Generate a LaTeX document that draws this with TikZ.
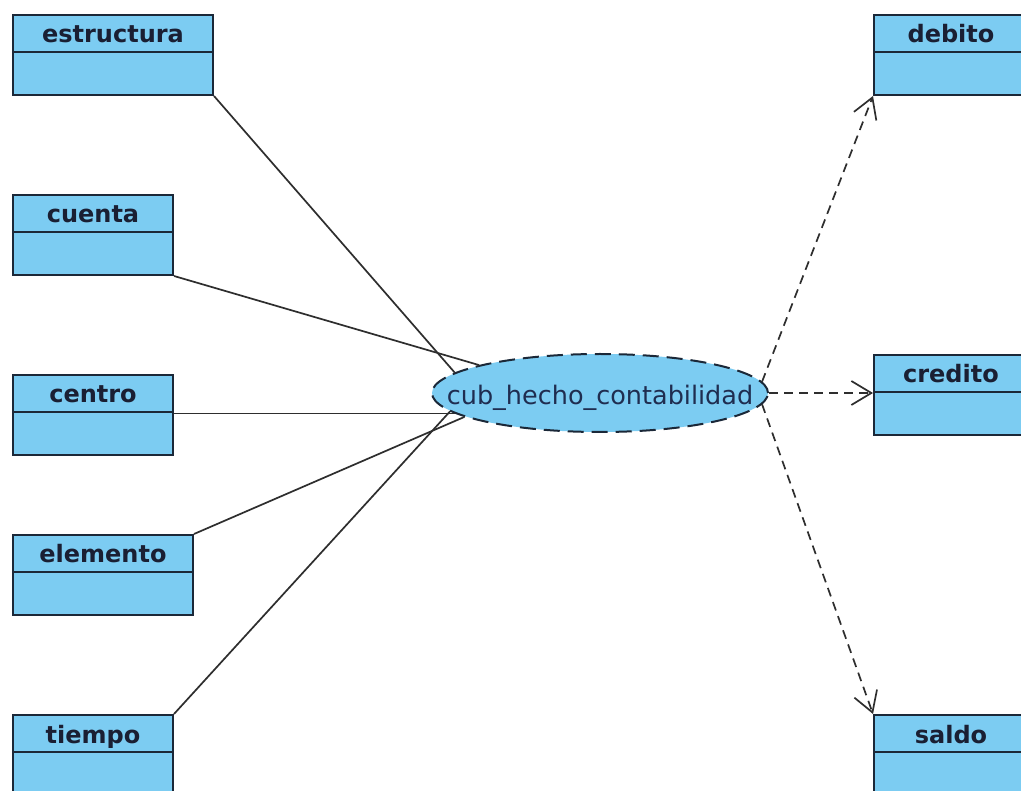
\documentclass[tikz,border=0pt]{standalone}
\usepackage{fontspec}
\setmainfont{DejaVu Sans}
\usetikzlibrary{arrows.meta,shapes.geometric}
\definecolor{classfill}{HTML}{7CCCF2}
\definecolor{classline}{HTML}{1B2838}
\definecolor{labelink}{HTML}{1A1F33}
\definecolor{ellipseink}{HTML}{1F2D50}
\definecolor{linkgray}{HTML}{2E2E2E}
\begin{document}
\begin{tikzpicture}[x=1pt,y=-1pt,
  classbox/.style={draw=classline,fill=classfill,line width=2pt,rectangle,
    anchor=north west,inner sep=0pt,minimum height=80pt},
  classname/.style={font=\fontsize{24}{26}\selectfont\bfseries,text=labelink,
    inner sep=0pt,anchor=base},
  divider/.style={draw=classline,line width=2pt},
  assoc/.style={draw=linkgray,line width=1.7pt},
  dep/.style={draw=linkgray,line width=1.7pt,dash pattern=on 9pt off 6pt,
    -{Straight Barb[length=20pt,width=24pt,line width=1.7pt]}},
]
\useasboundingbox (0,0) rectangle (1021,791);
\clip (0,0) rectangle (1021,791);
\fill[white] (0,0) rectangle (1021,791);

% class boxes: name compartment (38pt) above an empty attribute compartment
\node[classbox,minimum width=200pt] (est) at (12,14) {};
\node[classbox,minimum width=160pt] (cue) at (12,194) {};
\node[classbox,minimum width=160pt] (cen) at (12,374) {};
\node[classbox,minimum width=180pt] (ele) at (12,534) {};
\node[classbox,minimum width=160pt] (tie) at (12,714) {};
\node[classbox,minimum width=154pt] (deb) at (873,14) {};
\node[classbox,minimum width=154pt] (cre) at (873,354) {};
\node[classbox,minimum width=154pt] (sal) at (873,714) {};

\foreach \b/\t in {est/estructura,cue/cuenta,cen/centro,ele/elemento,
                   tie/tiempo,deb/debito,cre/credito,sal/saldo}{
  \draw[divider] ([yshift=-38pt]\b.north west) -- ([yshift=-38pt]\b.north east);
  \node[classname] (\b-name) at ([yshift=-29pt]\b.north) {\t};
}

% the fact cube
\node[ellipse,draw=classline,fill=classfill,line width=2pt,
      dash pattern=on 16pt off 8pt,minimum width=336pt,minimum height=78pt,
      inner sep=0pt] (hecho) at (600,393) {};
\node[font=\fontsize{25.5}{27}\selectfont,text=ellipseink,inner sep=0pt,
      anchor=base] (hecho-name) at ([yshift=-12pt]hecho.center)
      {cub\_hecho\_contabilidad};

% dimensions
\draw[assoc] (est.south east) -- (hecho.172.4);
\draw[assoc] (cue.south east) -- (hecho.167.7);
\draw[assoc] (hecho.188 -| cen.east) -- (hecho.188);
\draw[assoc] (ele.north east) -- (hecho.190.6);
\draw[assoc] (tie.north east) -- (hecho.187.6);

% measures
\draw[dep] (hecho.4.6) -- (deb.south west);
\draw[dep] (hecho.east) -- (hecho.east -| cre.west);
\draw[dep] (hecho.-4.6) -- (sal.north west);
\end{tikzpicture}
\end{document}
